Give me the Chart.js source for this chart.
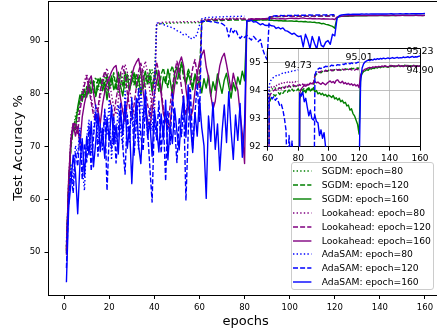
<!DOCTYPE html>
<html><head><meta charset="utf-8">
<script src="https://cdn.jsdelivr.net/npm/chart.js@4.4.0/dist/chart.umd.min.js"></script>
<style>
html,body{margin:0;padding:0;background:#fff;overflow:hidden;width:437px;height:335px;}
#wrap{position:relative;width:437px;height:335px;overflow:hidden;}
#main{position:absolute;left:0;top:0;}
#inset{position:absolute;left:238px;top:38px;}
#legend{position:absolute;left:291px;top:162px;width:143px;height:128px;box-sizing:border-box;border:1px solid #cccccc;border-radius:3px;background:rgba(255,255,255,0.8);font-family:"DejaVu Sans";font-size:9.2px;color:#000;}
.row{position:absolute;left:0;width:141px;height:14px;line-height:14px;white-space:nowrap;}
.row svg{position:absolute;left:1.3px;top:0;}
.row span{position:absolute;left:29.7px;top:0;}
</style></head>
<body><div id="wrap"><canvas id="main" width="446" height="335"></canvas><canvas id="inset" width="204" height="135"></canvas><div id="legend"></div></div>
<script>
// ---- categories / tick labels ----
const optimizers = ['SGDM', 'Lookahead', 'AdaSAM'];
const schedules = [80, 120, 160];
const xTicks = [0, 20, 40, 60, 80, 100, 120, 140, 160];
const yTicks = [50, 60, 70, 80, 90];
const insetXTicks = [60, 80, 100, 120, 140, 160];
const insetYTicks = [92, 93, 94, 95];
const annotEpochs = [80, 120, 160, 160];
const annotValues = [94.73, 95.01, 95.23, 94.90];

// ---- series values (test accuracy %, epoch 1..N) ----
const sgdm80 = [51.2, 61.8, 71.0, 72.8, 75.9, 77.2, 78.4, 80.7, 79.8, 80.5,
 82.3, 79.9, 81.6, 83.2, 80.8, 82.5, 81.4, 83.8, 80.2, 82.9,
 81.5, 83.5, 82.2, 80.3, 84.0, 82.7, 81.1, 83.9, 82.4, 84.5,
 81.9, 83.2, 80.6, 84.2, 82.8, 81.3, 83.7, 82.0, 84.6, 83.1,
 93.10, 93.25, 93.30, 93.36, 93.32, 93.40, 93.38, 93.44, 93.40, 93.46,
 93.42, 93.48, 93.45, 93.50, 93.46, 93.52, 93.48, 93.50, 93.47, 93.52,
 93.95, 94.02, 94.06, 94.04, 94.08, 94.10, 94.07, 94.12, 94.09, 94.14,
 94.11, 94.15, 94.12, 94.16, 94.13, 94.17, 94.14, 94.18, 94.15, 94.17];

const sgdm120 = [49.8, 63.5, 69.8, 73.5, 75.2, 76.4, 78.9, 80.3, 79.1, 81.4,
 80.0, 82.7, 81.2, 79.5, 83.1, 81.8, 82.9, 80.4, 83.7, 81.0,
 82.4, 84.0, 80.7, 82.9, 83.6, 81.3, 84.2, 82.0, 80.6, 83.3,
 81.7, 83.9, 82.5, 84.4, 80.9, 83.0, 82.1, 84.6, 81.4, 83.5,
 82.2, 80.5, 83.7, 84.9, 82.8, 81.2, 84.1, 85.3, 83.3, 81.9,
 84.6, 85.6, 83.0, 82.1, 84.8, 83.4, 81.6, 83.8, 82.5, 84.0,
 93.55, 93.70, 93.78, 93.85, 93.80, 93.88, 93.92, 93.86, 93.95, 93.90,
 93.98, 94.00, 93.94, 94.02, 93.96, 94.05, 93.98, 94.03, 94.00, 94.06,
 93.97, 94.04, 94.01, 94.08, 94.00, 94.05, 94.02, 94.07, 94.03, 94.06,
 94.50, 94.58, 94.62, 94.65, 94.63, 94.68, 94.66, 94.70, 94.68, 94.72,
 94.69, 94.73, 94.70, 94.74, 94.71, 94.73, 94.75, 94.72, 94.76, 94.74,
 94.77, 94.75, 94.78, 94.76, 94.79, 94.77, 94.80, 94.78, 94.80, 94.79];

const sgdm160 = [50.5, 62.0, 70.5, 74.0, 73.2, 77.5, 79.8, 78.6, 80.9, 79.4,
 81.8, 80.2, 82.5, 79.7, 81.3, 83.0, 80.6, 82.2, 78.9, 81.7,
 83.4, 80.8, 82.0, 84.1, 81.5, 79.6, 82.8, 83.6, 80.9, 82.3,
 84.0, 81.2, 83.1, 79.8, 82.6, 84.3, 81.9, 83.4, 80.4, 82.9,
 84.5, 81.6, 80.3, 83.2, 82.0, 84.7, 82.5, 79.9, 83.8, 85.1,
 83.0, 86.0, 84.2, 81.8, 83.9, 82.4, 80.8, 83.6, 81.5, 82.7,
 80.2, 82.9, 81.1, 83.5, 79.6, 82.3, 80.7, 83.8, 81.9, 80.1,
 82.6, 83.9, 81.4, 79.2, 82.1, 80.6, 83.2, 81.8, 84.3, 82.5,
 93.70, 93.85, 93.95, 94.00, 93.92, 94.05, 94.10, 93.98, 94.02, 94.08,
 93.95, 94.00, 93.88, 93.92, 93.85, 93.90, 93.82, 93.86, 93.78, 93.84,
 93.80, 93.75, 93.82, 93.70, 93.74, 93.66, 93.72, 93.60, 93.65, 93.55,
 93.58, 93.45, 93.48, 93.30, 93.35, 93.18, 93.10, 92.95, 92.80, 92.45,
 94.45, 94.60, 94.68, 94.70, 94.74, 94.72, 94.78, 94.76, 94.80, 94.78,
 94.82, 94.80, 94.84, 94.81, 94.85, 94.83, 94.86, 94.84, 94.82, 94.86,
 94.85, 94.88, 94.84, 94.87, 94.86, 94.89, 94.85, 94.88, 94.87, 94.90,
 94.86, 94.89, 94.87, 94.88, 94.86, 94.89, 94.87, 94.88, 94.86, 94.88];

const lookahead80 = [51.0, 63.6, 72.2, 74.5, 73.1, 75.0, 77.9, 80.2, 82.4, 83.8,
 82.0, 79.3, 77.1, 75.4, 76.8, 79.5, 81.9, 83.6, 84.9, 82.7,
 79.8, 77.5, 76.1, 78.8, 81.4, 83.9, 85.6, 84.1, 81.0, 78.3,
 76.4, 75.2, 78.6, 81.8, 84.5, 86.2, 84.0, 80.5, 77.3, 75.6,
 93.30, 93.45, 93.52, 93.56, 93.60, 93.55, 93.62, 93.58, 93.65, 93.60,
 93.66, 93.62, 93.68, 93.64, 93.70, 93.65, 93.69, 93.66, 93.72, 93.68,
 94.02, 94.10, 94.15, 94.12, 94.20, 94.17, 94.24, 94.20, 94.26, 94.22,
 94.28, 94.25, 94.30, 94.26, 94.32, 94.28, 94.33, 94.30, 94.35, 94.32];

const lookahead120 = [49.5, 62.8, 70.6, 73.9, 74.6, 72.5, 76.8, 79.4, 81.7, 83.2,
 81.0, 78.4, 76.0, 74.9, 77.3, 80.6, 82.8, 84.3, 83.1, 79.6,
 77.2, 75.8, 78.9, 81.5, 84.0, 85.3, 83.5, 80.2, 77.4, 75.1,
 77.9, 81.3, 84.2, 85.8, 83.9, 80.8, 78.0, 75.6, 79.3, 83.5,
 86.1, 84.0, 80.7, 77.2, 75.0, 74.1, 77.8, 81.4, 84.1, 86.2,
 84.5, 81.3, 78.4, 76.0, 78.9, 82.2, 84.9, 86.5, 83.7, 80.9,
 93.75, 93.88, 93.95, 94.00, 94.04, 93.98, 94.06, 94.10, 94.05, 94.12,
 94.08, 94.15, 94.10, 94.18, 94.12, 94.16, 94.20, 94.14, 94.22, 94.17,
 94.21, 94.15, 94.23, 94.18, 94.24, 94.19, 94.22, 94.26, 94.20, 94.24,
 94.55, 94.62, 94.66, 94.64, 94.68, 94.70, 94.67, 94.72, 94.69, 94.71,
 94.74, 94.70, 94.73, 94.71, 94.75, 94.72, 94.74, 94.70, 94.76, 94.73,
 94.75, 94.71, 94.74, 94.77, 94.73, 94.75, 94.72, 94.76, 94.74, 94.75];

const lookahead160 = [50.3, 64.0, 71.5, 74.4, 72.0, 73.8, 70.3, 75.6, 78.2, 80.1,
 82.6, 83.4, 80.2, 77.5, 76.9, 74.3, 78.0, 80.4, 82.1, 83.0,
 84.2, 85.0, 85.4, 82.3, 79.1, 76.6, 74.8, 78.5, 81.2, 83.4,
 85.1, 86.0, 86.7, 84.2, 80.5, 77.3, 75.0, 73.6, 76.8, 79.9,
 82.4, 84.3, 80.1, 76.2, 74.8, 73.5, 74.4, 78.3, 81.6, 84.0,
 85.8, 87.0, 85.2, 81.0, 77.6, 75.4, 76.9, 80.5, 83.7, 86.1,
 87.4, 88.3, 85.1, 83.2, 79.8, 77.1, 78.6, 82.4, 85.3, 86.9,
 87.7, 85.6, 83.2, 80.7, 83.9, 82.1, 80.7, 76.5, 72.5, 66.8,
 93.90, 94.05, 94.12, 94.18, 94.15, 94.22, 94.20, 94.26, 94.24, 94.28,
 94.32, 94.27, 94.30, 94.25, 94.22, 94.28, 94.24, 94.20, 94.26, 94.30,
 94.34, 94.28, 94.32, 94.26, 94.36, 94.38, 94.30, 94.27, 94.33, 94.24,
 94.28, 94.22, 94.26, 94.20, 94.24, 94.18, 94.22, 94.16, 94.20, 94.10,
 94.55, 94.68, 94.72, 94.76, 94.78, 94.80, 94.82, 94.80, 94.84, 94.82,
 94.85, 94.83, 94.86, 94.84, 94.87, 94.85, 94.88, 94.86, 94.84, 94.87,
 94.89, 94.86, 94.88, 94.85, 94.87, 94.90, 94.86, 94.88, 94.85, 94.87,
 94.89, 94.86, 94.88, 94.84, 94.87, 94.89, 94.85, 94.88, 94.86, 94.87];

const adasam80 = [52.0, 60.5, 66.8, 63.0, 70.2, 68.5, 73.6, 66.0, 61.7, 71.8,
 75.0, 68.9, 72.7, 78.0, 70.5, 74.3, 69.2, 76.8, 72.1, 79.0,
 67.5, 74.6, 71.0, 77.9, 73.3, 69.8, 80.5, 75.1, 70.6, 78.3,
 72.8, 76.7, 69.3, 81.2, 74.5, 78.9, 71.7, 77.4, 73.0, 80.0,
 93.45, 93.40, 93.30, 93.10, 93.05, 92.80, 92.70, 92.50, 92.30, 92.00,
 91.80, 91.60, 91.10, 91.30, 90.90, 90.40, 90.80, 90.60, 91.40, 93.00,
 94.20, 94.35, 94.42, 94.48, 94.50, 94.55, 94.53, 94.58, 94.60, 94.62,
 94.60, 94.65, 94.63, 94.67, 94.66, 94.69, 94.68, 94.71, 94.70, 94.73];

const adasam120 = [47.0, 59.8, 65.5, 61.2, 69.0, 66.3, 72.4, 63.8, 70.6, 67.1,
 73.9, 65.4, 71.8, 76.5, 68.2, 74.0, 70.3, 77.1, 61.7, 72.5,
 69.6, 75.8, 66.9, 73.2, 78.4, 70.0, 64.8, 76.0, 71.5, 79.3,
 68.4, 74.6, 81.0, 72.0, 69.2, 77.5, 73.0, 66.1, 59.5, 75.2,
 71.3, 78.6, 68.8, 74.9, 63.5, 76.8, 70.4, 80.2, 73.7, 67.0,
 75.5, 71.9, 78.0, 59.8, 72.6, 80.8, 69.7, 76.3, 82.0, 74.8,
 93.75, 93.80, 93.70, 93.78, 93.65, 93.72, 93.60, 93.45, 93.50, 93.30,
 93.00, 92.60, 90.80, 92.40, 91.60, 92.20, 91.20, 90.50, 91.00, 90.70,
 91.10, 90.60, 90.20, 90.90, 90.40, 89.90, 90.30, 88.50, 87.30, 86.50,
 94.55, 94.70, 94.76, 94.80, 94.78, 94.84, 94.82, 94.86, 94.85, 94.88,
 94.86, 94.90, 94.88, 94.91, 94.89, 94.92, 94.90, 94.93, 94.95, 94.92,
 94.96, 94.94, 94.97, 94.95, 94.98, 94.96, 94.99, 94.97, 95.00, 95.01];

const adasam160 = [44.3, 58.5, 63.0, 68.4, 65.2, 57.3, 66.8, 71.5, 64.3, 72.0,
 68.5, 74.8, 66.2, 70.9, 76.3, 69.1, 73.5, 67.8, 75.6, 71.2,
 77.8, 70.4, 74.1, 68.6, 76.9, 72.3, 78.5, 69.7, 73.8, 63.0,
 72.6, 79.2, 70.1, 66.8, 75.4, 80.6, 71.9, 74.7, 68.2, 77.0,
 73.5, 69.0, 76.2, 71.4, 78.8, 67.5, 74.0, 70.6, 77.3, 72.8,
 69.4, 75.9, 79.6, 71.8, 81.7, 74.2, 68.9, 76.5, 72.0, 79.1,
 73.6, 70.2, 60.2, 75.8, 71.0, 78.4, 69.5, 74.3, 65.5, 72.7,
 77.9, 70.8, 80.4, 73.1, 67.6, 76.0, 71.2, 78.2, 68.0, 74.5,
 93.90, 93.80, 93.95, 93.60, 93.72, 93.40, 93.10, 93.30, 93.00, 92.95,
 93.10, 92.90, 92.85, 92.40, 92.60, 92.30, 92.50, 92.00, 91.90, 91.60,
 91.30, 91.50, 91.10, 90.85, 91.00, 88.90, 91.30, 90.20, 88.60, 90.90,
 89.60, 88.50, 90.85, 89.20, 88.90, 89.80, 90.10, 89.40, 91.30, 91.00,
 94.30, 94.80, 94.95, 95.02, 95.05, 95.08, 95.06, 95.10, 95.08, 95.12,
 95.10, 95.13, 95.11, 95.14, 95.12, 95.15, 95.13, 95.14, 95.16, 95.13,
 95.15, 95.17, 95.14, 95.16, 95.18, 95.15, 95.17, 95.16, 95.19, 95.17,
 95.18, 95.20, 95.17, 95.19, 95.21, 95.18, 95.20, 95.19, 95.21, 95.23];

const seriesValues = [
  [sgdm80, sgdm120, sgdm160],
  [lookahead80, lookahead120, lookahead160],
  [adasam80, adasam120, adasam160]
];

// ---- styles ----
const FONT = '"DejaVu Sans", sans-serif';
const colors = ['#008000', '#800080', '#0000ff'];
const LW = 1.4;
const dashes = [[1.4, 2.2], [5.0, 2.1], []];

function buildDatasets() {
  const ds = [];
  let n = 0;
  optimizers.forEach((opt, oi) => {
    schedules.forEach((sch, si) => {
      const vals = seriesValues[oi][si];
      ds.push({
        label: opt + ': epoch=' + sch,
        data: vals.map((v, i) => ({ x: i + 1, y: v })),
        borderColor: colors[oi],
        backgroundColor: colors[oi],
        borderWidth: LW,
        borderDash: dashes[si],
        borderCapStyle: 'butt',
        borderJoinStyle: 'round',
        pointRadius: 0,
        pointHoverRadius: 0,
        tension: 0,
        fill: false,
        order: 8 - n
      });
      n++;
    });
  });
  return ds;
}

function zeroPadX(s, h) { s.height = h; s.paddingLeft = 0; s.paddingRight = 0; s.paddingTop = 0; s.paddingBottom = 0; }
function zeroPadY(s, w) { s.width = w; s.paddingTop = 0; s.paddingBottom = 0; s.paddingLeft = 0; s.paddingRight = 0; }

const frame = {
  id: 'frame',
  afterDraw(chart, args, opts) {
    const { ctx, chartArea: a } = chart;
    ctx.save();
    ctx.strokeStyle = '#000';
    ctx.lineWidth = 1;
    ctx.beginPath();
    ctx.moveTo(a.left, Math.round(a.top) + 0.5);
    ctx.lineTo(a.right, Math.round(a.top) + 0.5);
    if (opts.right) {
      ctx.moveTo(Math.round(a.right) + 0.5, a.top);
      ctx.lineTo(Math.round(a.right) + 0.5, a.bottom);
    }
    ctx.stroke();
    ctx.restore();
  }
};

const whiteBg = {
  id: 'whiteBg',
  beforeDraw(chart) {
    const { ctx, chartArea: a } = chart;
    ctx.save();
    ctx.fillStyle = '#fff';
    ctx.fillRect(a.left, a.top, a.right - a.left, a.bottom - a.top);
    ctx.restore();
  }
};

const annot = {
  id: 'annot',
  afterDatasetsDraw(chart) {
    const { ctx } = chart;
    const xs = chart.scales.x, ys = chart.scales.y;
    ctx.save();
    ctx.fillStyle = '#000';
    ctx.font = '9.5px ' + FONT;
    ctx.textAlign = 'center';
    annotEpochs.forEach((e, i) => {
      const v = annotValues[i];
      const px = xs.getPixelForValue(e);
      const py = ys.getPixelForValue(v);
      if (i === 3) { ctx.textBaseline = 'top'; ctx.fillText(v.toFixed(2), px, py + 1); }
      else { ctx.textBaseline = 'bottom'; ctx.fillText(v.toFixed(2), px, py); }
    });
    ctx.restore();
  }
};

Chart.defaults.font.family = FONT;
Chart.defaults.color = '#000';

new Chart(document.getElementById('main'), {
  type: 'line',
  data: { datasets: buildDatasets() },
  options: {
    responsive: false, animation: false, devicePixelRatio: 1,
    events: [],
    layout: { padding: { left: 0, top: 1, right: 3.1, bottom: 0 } },
    plugins: { legend: { display: false }, tooltip: { enabled: false }, frame: { right: false } },
    scales: {
      x: {
        type: 'linear', min: -6.95, max: 167.95,
        afterBuildTicks: s => { s.ticks = xTicks.map(v => ({ value: v })); },
        afterFit: s => zeroPadX(s, 40),
        grid: { drawOnChartArea: false, drawTicks: true, tickLength: 4, tickColor: '#000', tickWidth: 1 },
        border: { display: true, color: '#000', width: 1 },
        ticks: { font: { size: 8.5 }, color: '#000', padding: 4, maxRotation: 0, autoSkip: false },
        title: { display: true, text: 'epochs', font: { size: 13 }, color: '#000', padding: { top: 0, bottom: 6 } }
      },
      y: {
        type: 'linear', min: 41.9, max: 97.6,
        afterBuildTicks: s => { s.ticks = yTicks.map(v => ({ value: v })); },
        afterFit: s => zeroPadY(s, 48.5),
        grid: { drawOnChartArea: false, drawTicks: true, tickLength: 4, tickColor: '#000', tickWidth: 1 },
        border: { display: true, color: '#000', width: 1 },
        ticks: { font: { size: 8.5 }, color: '#000', padding: 4, autoSkip: false },
        title: { display: true, text: 'Test Accuracy %', font: { size: 13 }, color: '#000', padding: { top: 11, bottom: 0 } }
      }
    }
  },
  plugins: [frame]
});

new Chart(document.getElementById('inset'), {
  type: 'line',
  data: { datasets: buildDatasets() },
  options: {
    responsive: false, animation: false, devicePixelRatio: 1,
    events: [],
    layout: { padding: { left: 0, top: 10.3, right: 22, bottom: 0 } },
    plugins: { legend: { display: false }, tooltip: { enabled: false }, frame: { right: true } },
    scales: {
      x: {
        type: 'linear', min: 60, max: 160,
        afterBuildTicks: s => { s.ticks = insetXTicks.map(v => ({ value: v })); },
        afterFit: s => zeroPadX(s, 26.3),
        grid: { drawOnChartArea: true, color: '#b0b0b0', lineWidth: 0.8, drawTicks: true, tickLength: 4, tickColor: '#000', tickWidth: 1 },
        border: { display: true, color: '#000', width: 1 },
        ticks: { font: { size: 9 }, color: '#000', padding: 2.5, maxRotation: 0, autoSkip: false }
      },
      y: {
        type: 'linear', min: 92, max: 95.5,
        afterBuildTicks: s => { s.ticks = insetYTicks.map(v => ({ value: v })); },
        afterFit: s => zeroPadY(s, 29.7),
        grid: { drawOnChartArea: true, color: '#b0b0b0', lineWidth: 0.8, drawTicks: true, tickLength: 4, tickColor: '#000', tickWidth: 1 },
        border: { display: true, color: '#000', width: 1 },
        ticks: { font: { size: 9 }, color: '#000', padding: 3, autoSkip: false }
      }
    }
  },
  plugins: [whiteBg, frame, annot]
});

// ---- legend (HTML, built from the same categories) ----
(function () {
  const lg = document.getElementById('legend');
  let i = 0;
  optimizers.forEach((opt, oi) => {
    schedules.forEach((sch, si) => {
      const row = document.createElement('div');
      row.className = 'row';
      row.style.top = (1 + 13.9 * i) + 'px';
      const d = dashes[si].length ? ' stroke-dasharray="' + dashes[si].join(' ') + '"' : '';
      row.innerHTML = '<svg width="20" height="14"><line x1="0" y1="7" x2="18.4" y2="7" stroke="' + colors[oi] +
        '" stroke-width="' + LW + '"' + d + '/></svg><span>' + opt + ': epoch=' + sch + '</span>';
      lg.appendChild(row);
      i++;
    });
  });
})();
</script>
</body></html>
